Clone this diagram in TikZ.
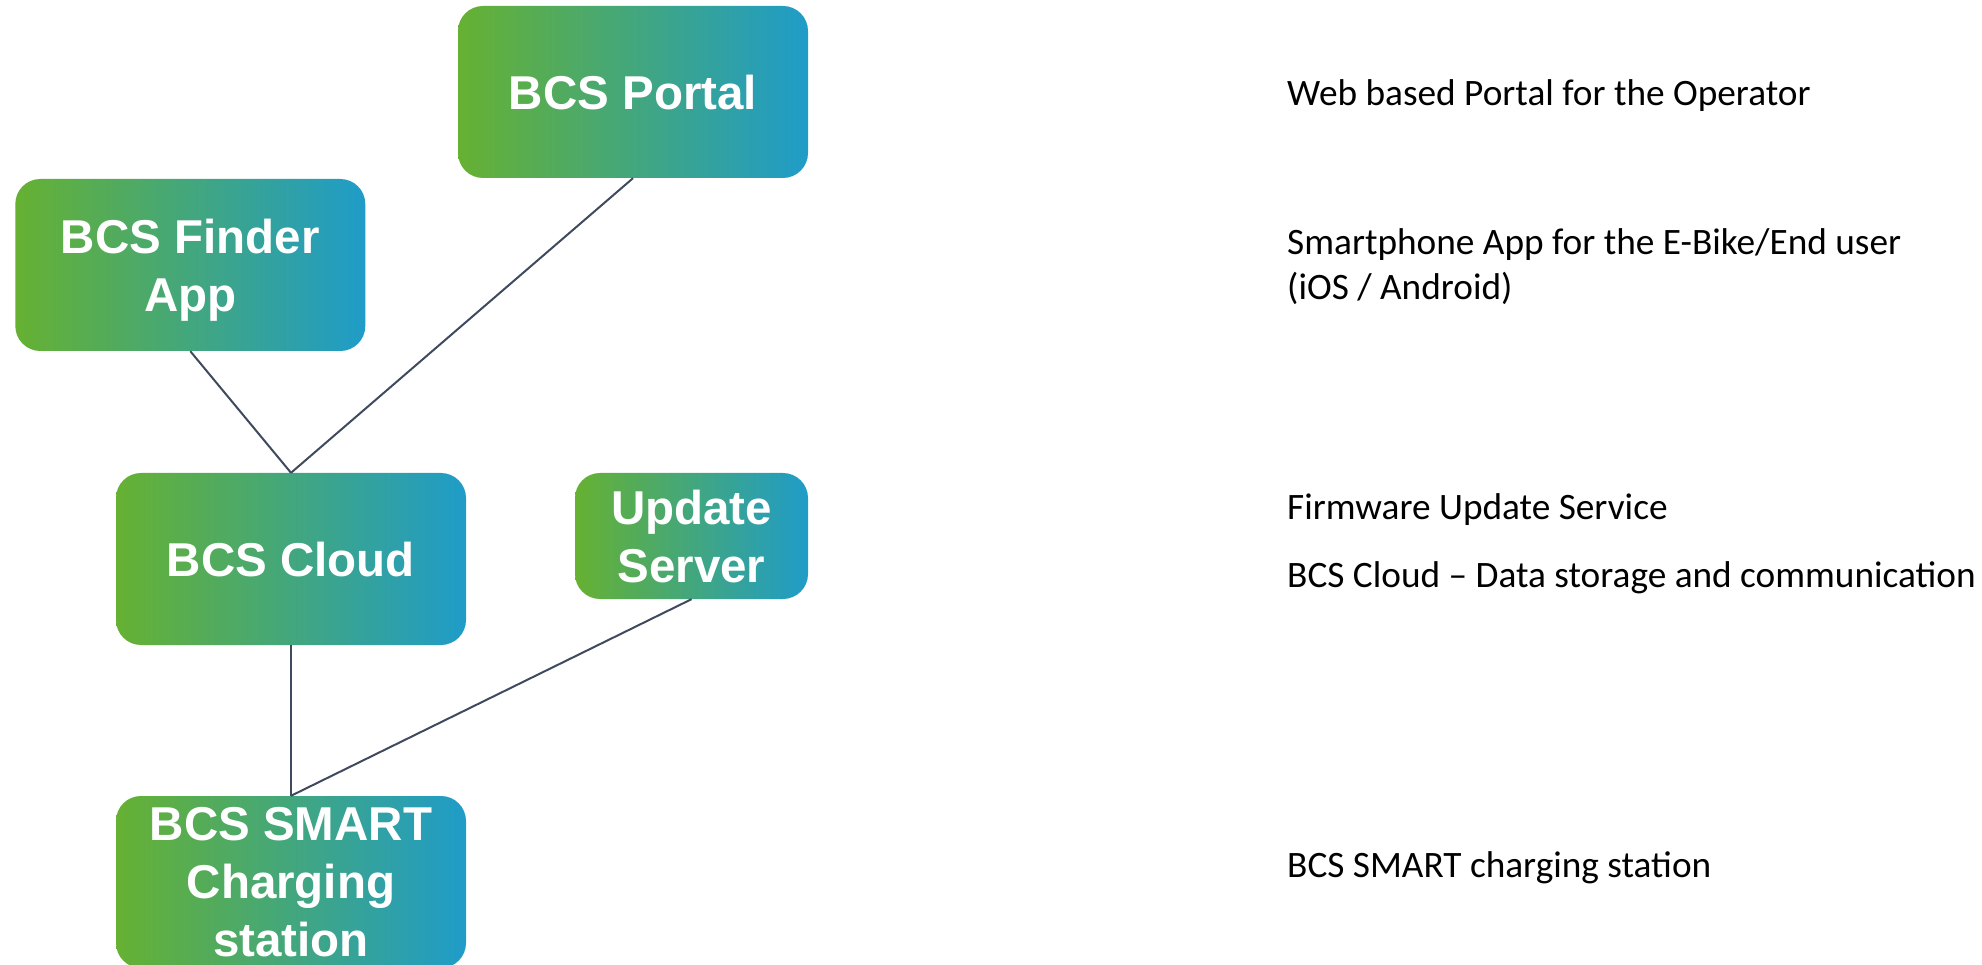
\documentclass[tikz,border=0pt]{standalone}
\usepackage{fontspec}
\setmainfont{Carlito}
\newfontfamily\boxfont{Liberation Sans}
\usetikzlibrary{positioning}
\definecolor{gL}{HTML}{66B132}
\definecolor{gR}{HTML}{1F9CC9}
\definecolor{lineC}{HTML}{404A5E}
\tikzset{
  gbox/.style={rounded corners=25pt, left color=gL, right color=gR, draw=none,
    text=white, align=center, inner sep=0pt, text depth=0pt,
    minimum width=350pt, minimum height=172pt,
    font=\boxfont\bfseries\fontsize{47.5}{57.7}\selectfont},
  conn/.style={draw=lineC, line width=2pt},
  desc/.style={anchor=base west, inner sep=0pt, align=left,
    font=\fontsize{37.3}{45}\selectfont}
}
\begin{document}
\begin{tikzpicture}[x=1pt,y=-1pt]
\useasboundingbox (0,0) rectangle (1982,965);
\node[gbox] (portal) at (633,92) {BCS Portal};
\node[gbox] (finder) at (190.3,265) {BCS Finder\\App};
\node[gbox] (cloud) at (291,559) {BCS Cloud};
\node[gbox, minimum width=233pt, minimum height=126pt] (update) at (691.5,536) {Update\\Server};
\node[gbox] (smart) at (291,882) {BCS SMART\\Charging\\station};
\draw[conn] (finder.south) -- (cloud.north);
\draw[conn] (portal.south) -- (cloud.north);
\draw[conn] (cloud.south) -- (smart.north);
\draw[conn] (update.south) -- (smart.north);
\node[desc] (d1) at (1287,106) {Web based Portal for the Operator};
\node[desc] (d2) at (1287,300) {Smartphone App for the E-Bike/End user\\(iOS / Android)};
\node[desc] (d3) at (1287,519) {Firmware Update Service};
\node[desc] (d4) at (1287,587) {BCS Cloud – Data storage and communication};
\node[desc] (d5) at (1287,877) {BCS SMART charging station};
\end{tikzpicture}
\end{document}
